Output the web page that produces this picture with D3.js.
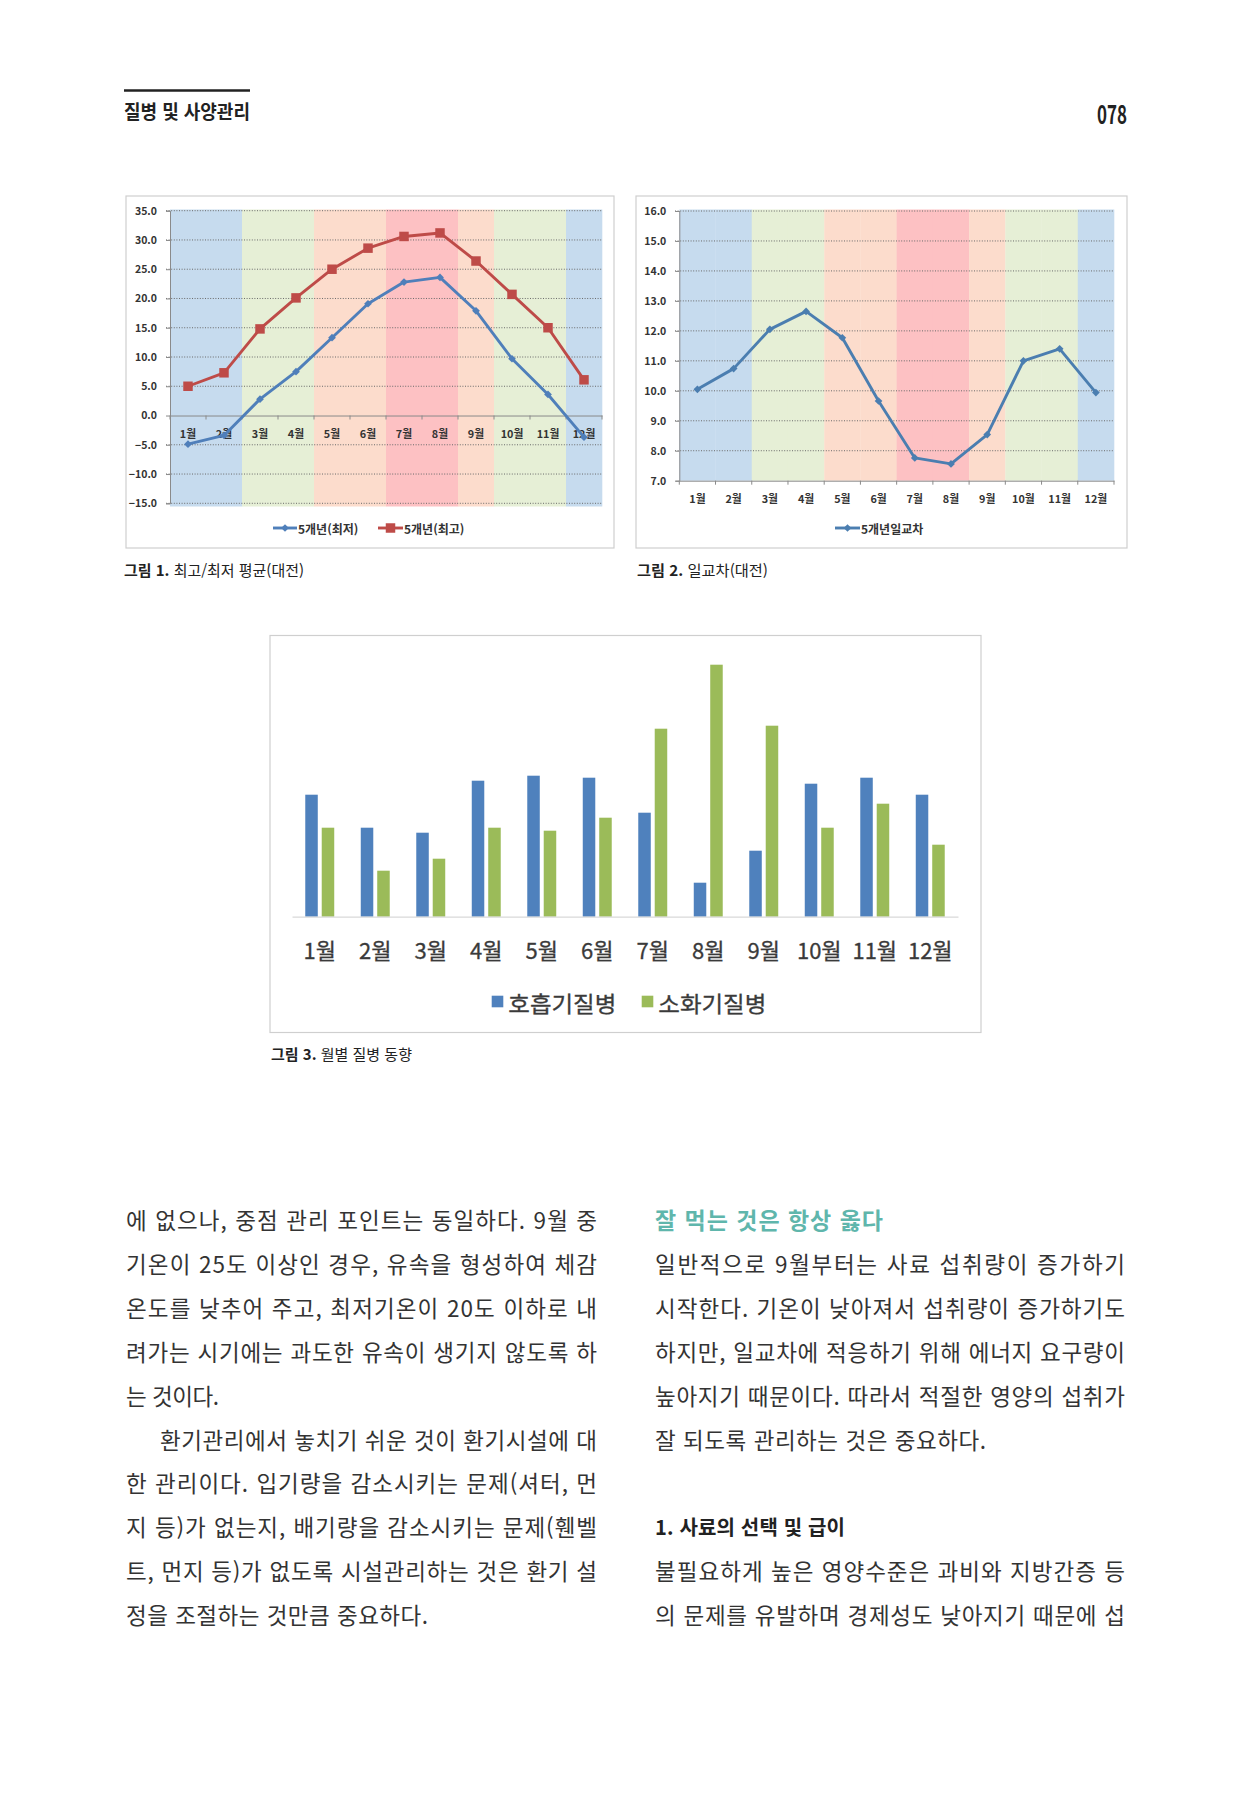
<!DOCTYPE html>
<html lang="ko">
<head>
<meta charset="utf-8">
<script src="https://cdn.jsdelivr.net/npm/d3@7"></script>
<style>
  html, body { margin: 0; padding: 0; background: #fff; }
  svg { display: block; }
  text { font-family: "Noto Sans CJK KR", "Noto Sans", sans-serif; }
</style>
</head>
<body>
<svg id="page" width="1251" height="1820"></svg>
<script>
// ---------------- DATA ----------------
const months = ["1월","2월","3월","4월","5월","6월","7월","8월","9월","10월","11월","12월"];
const seasons = ["winter","winter","spring","spring","summer","summer","peak","peak","summer","autumn","autumn","winter"];
const tempMin = [-4.9, -3.4, 2.8, 7.5, 13.3, 19.1, 22.8, 23.6, 17.9, 9.7, 3.6, -3.7];
const tempMax = [5.0, 7.3, 14.8, 20.1, 25.0, 28.6, 30.6, 31.2, 26.4, 20.7, 15.0, 6.1];
const tempTicks = [35, 30, 25, 20, 15, 10, 5, 0, -5, -10, -15];
const diurnal = [10.05, 10.74, 12.05, 12.65, 11.77, 9.66, 7.76, 7.56, 8.54, 11.0, 11.4, 9.94];
const diurnalTicks = [16, 15, 14, 13, 12, 11, 10, 9, 8, 7];
const respiratory = [122, 89, 84, 136, 141, 139, 104, 34, 66, 133, 139, 122];
const digestive = [89, 46, 58, 89, 86, 99, 188, 252, 191, 89, 113, 72];
const legend1 = ["5개년(최저)", "5개년(최고)"];
const legend2 = ["5개년일교차"];
const legend3 = ["호흡기질병", "소화기질병"];
const headerTitle = "질병 및 사양관리";
const pageNumber = "078";
const captions = [
  {bold: "그림 1.", rest: " 최고/최저 평균(대전)"},
  {bold: "그림 2.", rest: " 일교차(대전)"},
  {bold: "그림 3.", rest: " 월별 질병 동향"}
];
const leftLines = [
  "에 없으나, 중점 관리 포인트는 동일하다. 9월 중",
  "기온이 25도 이상인 경우, 유속을 형성하여 체감",
  "온도를 낮추어 주고, 최저기온이 20도 이하로 내",
  "려가는 시기에는 과도한 유속이 생기지 않도록 하",
  "는 것이다.",
  "환기관리에서 놓치기 쉬운 것이 환기시설에 대",
  "한 관리이다. 입기량을 감소시키는 문제(셔터, 먼",
  "지 등)가 없는지, 배기량을 감소시키는 문제(휀벨",
  "트, 먼지 등)가 없도록 시설관리하는 것은 환기 설",
  "정을 조절하는 것만큼 중요하다."
];
const rightHeading = "잘 먹는 것은 항상 옳다";
const rightLines = [
  "일반적으로 9월부터는 사료 섭취량이 증가하기",
  "시작한다. 기온이 낮아져서 섭취량이 증가하기도",
  "하지만, 일교차에 적응하기 위해 에너지 요구량이",
  "높아지기 때문이다. 따라서 적절한 영양의 섭취가",
  "잘 되도록 관리하는 것은 중요하다."
];
const subHeading = "1. 사료의 선택 및 급이";
const rightLines2 = [
  "불필요하게 높은 영양수준은 과비와 지방간증 등",
  "의 문제를 유발하며 경제성도 낮아지기 때문에 섭"
];

// ---------------- STYLE ----------------
const bandColor = {winter: "#c6dbee", spring: "#e6efd6", summer: "#fcdccc", peak: "#fdc1c3", autumn: "#e6efd6"};
const blueLine = "#4f7fba", redLine = "#be4b48", diurnalLine = "#4b7eb0";
const barBlue = "#4f81bd", barGreen = "#9bbb59";

const svg = d3.select("#page");
svg.append("rect").attr("width", 1251).attr("height", 1820).attr("fill", "#fff");

// ---------------- HEADER ----------------
svg.append("line").attr("x1", 124).attr("x2", 250).attr("y1", 90.5).attr("y2", 90.5)
  .attr("stroke", "#222").attr("stroke-width", 2.5);
svg.append("text").attr("x", 124).attr("y", 110).attr("dominant-baseline", "central")
  .attr("font-size", 19).attr("font-weight", 700).attr("fill", "#222")
  .attr("textLength", 126).attr("lengthAdjust", "spacingAndGlyphs").text(headerTitle);
svg.append("text").attr("x", 1097).attr("y", 112).attr("dominant-baseline", "central")
  .attr("font-size", 26).attr("font-weight", 700).attr("fill", "#222")
  .attr("textLength", 30).attr("lengthAdjust", "spacingAndGlyphs").text(pageNumber);

// ---------------- helpers ----------------
function box(x, y, w, h) {
  svg.append("rect").attr("x", x).attr("y", y).attr("width", w).attr("height", h)
    .attr("fill", "#fff").attr("stroke", "#cfcfcf").attr("stroke-width", 1.2);
}
function caption(c, x, y, len) {
  const t = svg.append("text").attr("x", x).attr("y", y).attr("dominant-baseline", "central")
    .attr("font-size", 15).attr("fill", "#222")
    .attr("textLength", len).attr("lengthAdjust", "spacingAndGlyphs");
  t.append("tspan").attr("font-weight", 700).text(c.bold);
  t.append("tspan").attr("font-weight", 400).text(c.rest);
}
function seasonBands(g, x, yTop, yBot) {
  g.selectAll("rect.band").data(months).join("rect").attr("class", "band")
    .attr("x", d => x(d)).attr("width", x.bandwidth() + 0.3)
    .attr("y", yTop).attr("height", yBot - yTop)
    .attr("fill", (d, i) => bandColor[seasons[i]]);
}
function grid(g, y, ticks, x0, x1, skip) {
  g.selectAll("line.grid").data(ticks.filter(t => t !== skip)).join("line").attr("class", "grid")
    .attr("x1", x0).attr("x2", x1).attr("y1", d => y(d)).attr("y2", d => y(d))
    .attr("stroke", "#6a6a6a").attr("stroke-width", 1).attr("stroke-dasharray", "1,1.6");
}
function yAxis(g, y, ticks, xPos) {
  const ax = g.append("g").attr("transform", `translate(${xPos},0)`)
    .call(d3.axisLeft(y).tickValues(ticks).tickFormat(d3.format(".1f")).tickSize(4).tickPadding(9));
  ax.select(".domain").attr("stroke", "#8a8a8a");
  ax.selectAll(".tick line").attr("stroke", "#8a8a8a");
  ax.selectAll("text").attr("font-size", 10.5).attr("font-weight", 700).attr("fill", "#333")
    .attr("font-family", "'Noto Sans', sans-serif");
}
function xAxis(g, x, yPos, labelY) {
  const ax = g.append("g").attr("transform", `translate(0,${yPos})`)
    .call(d3.axisBottom(x).tickSize(0).tickPadding(0));
  ax.select(".domain").attr("stroke", "#8a8a8a");
  ax.selectAll("text").attr("y", labelY - yPos).attr("dy", "0.35em")
    .attr("font-size", 10.8).attr("font-weight", 700).attr("fill", "#333");
  const bounds = months.map(m => x(m)).concat([x.range()[1]]);
  g.selectAll("line.xt").data(bounds).join("line").attr("class", "xt")
    .attr("x1", d => d).attr("x2", d => d).attr("y1", yPos).attr("y2", yPos + 4)
    .attr("stroke", "#8a8a8a");
}
const diamond = d3.symbol(d3.symbolDiamond2, 38);
const square = d3.symbol(d3.symbolSquare, 90);

// ---------------- CHART 1 ----------------
box(126, 196, 488, 352);
{
  const g = svg.append("g");
  const x = d3.scaleBand().domain(months).range([170, 602]).padding(0);
  const y = d3.scaleLinear().domain([-15, 35]).range([503.3, 210.7]);
  seasonBands(g, x, 209.5, 506.5);
  grid(g, y, tempTicks, 166, 602, 0);
  yAxis(g, y, tempTicks, 170);
  xAxis(g, x, y(0), 434);
  const cx = d => x(d) + x.bandwidth() / 2;
  const line = d3.line().x((d, i) => cx(months[i])).y(d => y(d));
  g.append("path").datum(tempMin).attr("d", line).attr("fill", "none")
    .attr("stroke", blueLine).attr("stroke-width", 2.9).attr("stroke-linejoin", "round");
  g.append("path").datum(tempMax).attr("d", line).attr("fill", "none")
    .attr("stroke", redLine).attr("stroke-width", 2.9).attr("stroke-linejoin", "round");
  g.selectAll("path.mn").data(tempMin).join("path").attr("class", "mn").attr("d", diamond)
    .attr("transform", (d, i) => `translate(${cx(months[i])},${y(d)})`).attr("fill", blueLine);
  g.selectAll("path.mx").data(tempMax).join("path").attr("class", "mx").attr("d", square)
    .attr("transform", (d, i) => `translate(${cx(months[i])},${y(d)})`).attr("fill", redLine);
  // legend
  const ly = 528;
  g.append("line").attr("x1", 273).attr("x2", 297).attr("y1", ly).attr("y2", ly).attr("stroke", blueLine).attr("stroke-width", 2.9);
  g.append("path").attr("d", diamond).attr("transform", `translate(285,${ly})`).attr("fill", blueLine);
  g.append("text").attr("x", 298).attr("y", ly).attr("dominant-baseline", "central").attr("font-size", 12)
    .attr("font-weight", 700).attr("fill", "#333").text(legend1[0]);
  g.append("line").attr("x1", 378).attr("x2", 403).attr("y1", ly).attr("y2", ly).attr("stroke", redLine).attr("stroke-width", 2.9);
  g.append("path").attr("d", square).attr("transform", `translate(390.5,${ly})`).attr("fill", redLine);
  g.append("text").attr("x", 404).attr("y", ly).attr("dominant-baseline", "central").attr("font-size", 12)
    .attr("font-weight", 700).attr("fill", "#333").text(legend1[1]);
}
caption(captions[0], 124, 569, 180);

// ---------------- CHART 2 ----------------
box(636, 196, 491, 352);
{
  const g = svg.append("g");
  const x = d3.scaleBand().domain(months).range([679.3, 1114]).padding(0);
  const y = d3.scaleLinear().domain([7, 16]).range([480.7, 211]);
  seasonBands(g, x, 209.5, 480.7);
  grid(g, y, diurnalTicks, 675, 1114, 7);
  yAxis(g, y, diurnalTicks, 679.3);
  xAxis(g, x, y(7), 499);
  const cx = d => x(d) + x.bandwidth() / 2;
  const line = d3.line().x((d, i) => cx(months[i])).y(d => y(d));
  g.append("path").datum(diurnal).attr("d", line).attr("fill", "none")
    .attr("stroke", diurnalLine).attr("stroke-width", 2.9).attr("stroke-linejoin", "round");
  g.selectAll("path.dv").data(diurnal).join("path").attr("class", "dv").attr("d", diamond)
    .attr("transform", (d, i) => `translate(${cx(months[i])},${y(d)})`).attr("fill", diurnalLine);
  const ly = 528;
  g.append("line").attr("x1", 835).attr("x2", 860).attr("y1", ly).attr("y2", ly).attr("stroke", diurnalLine).attr("stroke-width", 2.9);
  g.append("path").attr("d", diamond).attr("transform", `translate(847.5,${ly})`).attr("fill", diurnalLine);
  g.append("text").attr("x", 861).attr("y", ly).attr("dominant-baseline", "central").attr("font-size", 12)
    .attr("font-weight", 700).attr("fill", "#333").text(legend2[0]);
}
caption(captions[1], 637, 569, 131);

// ---------------- CHART 3 ----------------
box(270, 635.5, 711, 397);
{
  const g = svg.append("g");
  const x0 = d3.scaleBand().domain(months).range([292, 958]).padding(0);
  const bw = x0.bandwidth();
  const x1 = d3.scaleBand().domain(["r", "d"]).range([bw * 0.239, bw * 0.761]).paddingInner(0.24);
  const y = d3.scaleLinear().domain([0, 280]).range([916.7, 636.7]);
  g.selectAll("rect.r").data(respiratory).join("rect").attr("class", "r")
    .attr("x", (d, i) => x0(months[i]) + x1("r")).attr("width", x1.bandwidth())
    .attr("y", d => y(d)).attr("height", d => y(0) - y(d)).attr("fill", barBlue);
  g.selectAll("rect.d").data(digestive).join("rect").attr("class", "d")
    .attr("x", (d, i) => x0(months[i]) + x1("d")).attr("width", x1.bandwidth())
    .attr("y", d => y(d)).attr("height", d => y(0) - y(d)).attr("fill", barGreen);
  const ax = g.append("g").attr("transform", `translate(0,${y(0)})`)
    .call(d3.axisBottom(x0).tickSize(0).tickPadding(0));
  ax.select(".domain").attr("stroke", "#d9d9d9").attr("stroke-width", 1.3);
  ax.selectAll("text").attr("y", 951.7 - y(0)).attr("dy", "0.35em")
    .attr("font-size", 22).attr("fill", "#3a3a3a").attr("stroke", "#3a3a3a").attr("stroke-width", 0.3);
  const ly = 1001.5;
  [[legend3[0], barBlue, 491.7], [legend3[1], barGreen, 641.7]].forEach(([t, c, lx]) => {
    g.append("rect").attr("x", lx).attr("y", ly - 5.8).attr("width", 11.6).attr("height", 11.6).attr("fill", c);
    g.append("text").attr("x", lx + 16.6).attr("y", ly).attr("dominant-baseline", "central")
      .attr("font-size", 22).attr("fill", "#3a3a3a").attr("stroke", "#3a3a3a").attr("stroke-width", 0.3)
      .attr("textLength", 108).attr("lengthAdjust", "spacingAndGlyphs").text(t);
  });
}
caption(captions[2], 271, 1053, 141);

// ---------------- BODY TEXT ----------------
const lineY = i => 1219 + 43.9 * i;
function bodyLine(txt, x, i, len, opts = {}) {
  svg.append("text").attr("x", x).attr("y", lineY(i)).attr("dominant-baseline", "central")
    .attr("font-size", opts.size || 22.5).attr("font-weight", opts.weight || 400)
    .attr("fill", opts.fill || "#333")
    .attr("textLength", len).attr("lengthAdjust", "spacing").text(txt);
}
const leftLens = [471, 471, 471, 471, 93, 437, 471, 471, 471, 302];
leftLines.forEach((t, i) => bodyLine(t, i === 5 ? 160 : 126, i, leftLens[i]));
bodyLine(rightHeading, 655, 0, 228, {size: 23, weight: 700, fill: "#5fb6ac"});
const rightLens = [470, 470, 470, 470, 331];
rightLines.forEach((t, i) => bodyLine(t, 655, i + 1, rightLens[i]));
bodyLine(subHeading, 655, 7, 190, {size: 20, weight: 700, fill: "#222"});
rightLines2.forEach((t, i) => bodyLine(t, 655, i + 8, 470));
</script>
</body>
</html>
